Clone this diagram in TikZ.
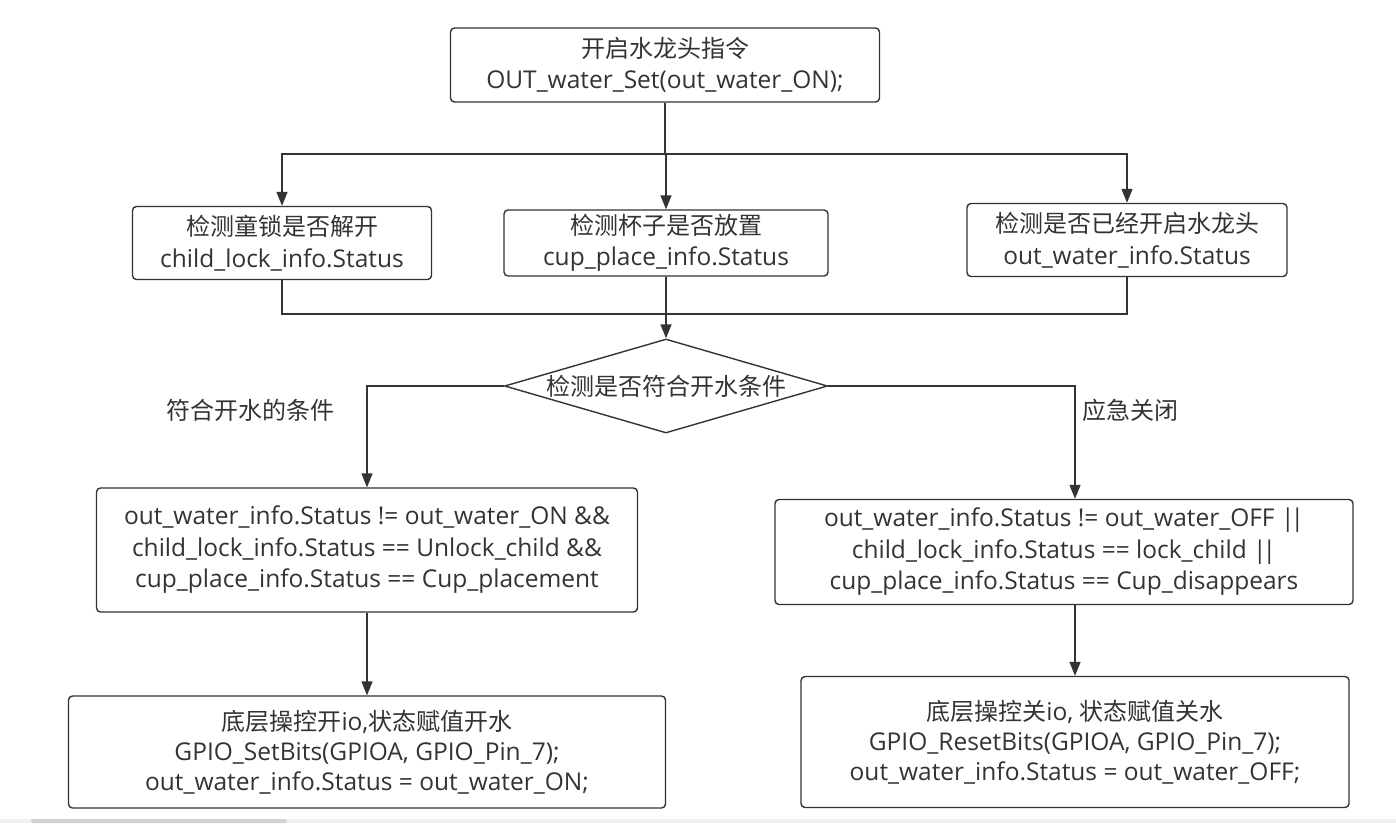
\documentclass[tikz,border=0pt]{standalone}
\usepackage{fontspec}
\setmainfont{Open Sans}
\newfontfamily\cjk{Noto Sans CJK SC}
\usetikzlibrary{arrows.meta, shapes.geometric, positioning}
\definecolor{linegray}{HTML}{333333}
\newcommand{\zh}[1]{{\cjk\fontsize{24}{31}\selectfont #1}}
\newcommand{\oror}{|\kern-4pt|}

\begin{document}
\begin{tikzpicture}[x=1pt, y=-1pt, font=\fontsize{24.5}{31.5}\selectfont, text=linegray,
  box/.style={draw=linegray, line width=1.4pt, rounded corners=4pt, align=center, inner sep=0pt},
  line/.style={draw=linegray, line width=1.4pt},
  flow/.style={line, -{Triangle[length=14pt, width=11pt]}}]
  \useasboundingbox (0,0) rectangle (1396,823);
  % Start
  \node[box, minimum width=429, minimum height=74] (start) at (665,65)
    {\zh{开启水龙头指令}\\OUT\_water\_Set(out\_water\_ON);};
  % Checks
  \node[box, minimum width=299, minimum height=73] (lock) at (282,243)
    {\zh{检测童锁是否解开}\\child\_lock\_info.Status};
  \node[box, minimum width=324, minimum height=66] (cup) at (666,243)
    {\zh{检测杯子是否放置}\\cup\_place\_info.Status};
  \node[box, minimum width=320, minimum height=73] (water) at (1127,240)
    {\zh{检测是否已经开启水龙头}\\out\_water\_info.Status};
  \coordinate (bus) at (665,154);
  \coordinate (join) at (666,314);
  \draw[line] (start.south) -- (bus);
  \draw[flow] (bus) -- (bus -| cup.north) -- (cup.north);
  \draw[flow] (bus) -| (lock.north);
  \draw[flow] (bus) -| (water.north);
  % Condition
  \node[draw=linegray, line width=1.4pt, diamond, aspect=3.44, inner sep=0pt, inner xsep=-6pt,
    minimum width=323, minimum height=94] (cond) at (666,386) {\zh{检测是否符合开水条件}};
  \draw[line] (lock.south) |- (join);
  \draw[line] (water.south) |- (join);
  \draw[flow] (cup.south) -- (cond.north);
  \node (yes) at (250,410) {\zh{符合开水的条件}};
  \node (no) at (1130,410) {\zh{应急关闭}};
  % Branches
  \node[box, minimum width=541, minimum height=124] (okbox) at (367,550)
    {out\_water\_info.Status != out\_water\_ON \&\&\\child\_lock\_info.Status == Unlock\_child \&\&\\cup\_place\_info.Status == Cup\_placement};
  \node[box, minimum width=578, minimum height=105] (offbox) at (1064,552)
    {out\_water\_info.Status != out\_water\_OFF \oror\\child\_lock\_info.Status == lock\_child \oror\\cup\_place\_info.Status == Cup\_disappears};
  \draw[flow] (cond.west) -| (okbox.north);
  \draw[flow] (cond.east) -| ([xshift=11]offbox.north);
  % Actions
  \node[box, minimum width=597, minimum height=112, font=\fontsize{24.5}{30}\selectfont] (onio) at (367,752)
    {\zh{底层操控开}io,\zh{状态赋值开水}\\GPIO\_SetBits(GPIOA, GPIO\_Pin\_7);\\out\_water\_info.Status = out\_water\_ON;};
  \node[box, minimum width=548, minimum height=131, font=\fontsize{24.5}{30}\selectfont] (offio) at (1075,742)
    {\zh{底层操控关}io, \zh{状态赋值关水}\\GPIO\_ResetBits(GPIOA, GPIO\_Pin\_7);\\out\_water\_info.Status = out\_water\_OFF;};
  \draw[flow] (okbox.south) -- (onio.north);
  \draw[flow] ([xshift=11]offbox.south) -- (offio.north);
  % Scroll bar
  \fill[gray!12] (0,819) rectangle (1396,823);
  \fill[gray!35, rounded corners=2pt] (31,819) rectangle (287,823);
\end{tikzpicture}
\end{document}
